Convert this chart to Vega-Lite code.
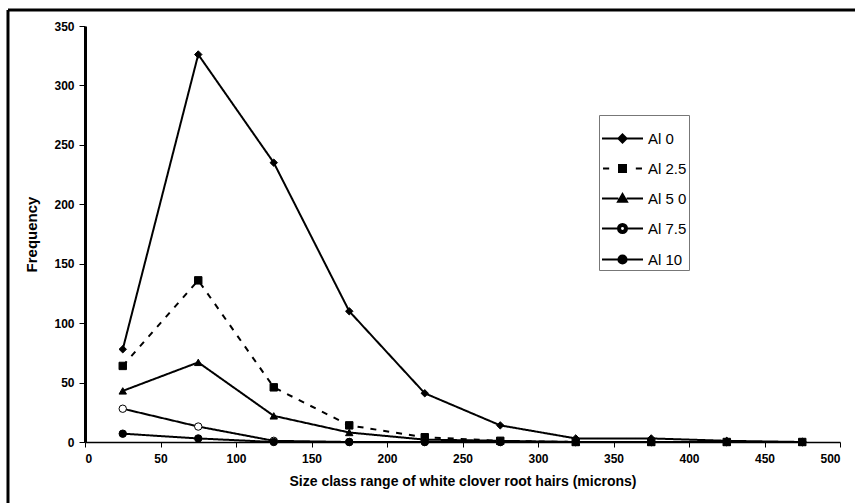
{
  "$schema": "https://vega.github.io/schema/vega-lite/v6.json",
  "width": 755,
  "height": 416,
  "autosize": {"type": "none"},
  "padding": {"left": 85, "top": 26, "right": 15, "bottom": 61},
  "background": "white",
  "config": {
    "view": {"stroke": null},
    "font": "Liberation Sans",
    "axis": {
      "grid": false,
      "labelFont": "Liberation Sans",
      "labelFontWeight": "bold",
      "labelFontSize": 12,
      "labelColor": "black",
      "titleFont": "Liberation Sans",
      "titleFontWeight": "bold",
      "titleColor": "black",
      "domainColor": "black",
      "tickColor": "black"
    }
  },
  "data": {
    "values": [
      {"size": 25, "series": "Al 0", "freq": 78},
      {"size": 75, "series": "Al 0", "freq": 326},
      {"size": 125, "series": "Al 0", "freq": 235},
      {"size": 175, "series": "Al 0", "freq": 110},
      {"size": 225, "series": "Al 0", "freq": 41},
      {"size": 275, "series": "Al 0", "freq": 14},
      {"size": 325, "series": "Al 0", "freq": 3},
      {"size": 375, "series": "Al 0", "freq": 3},
      {"size": 425, "series": "Al 0", "freq": 1},
      {"size": 475, "series": "Al 0", "freq": 0},
      {"size": 25, "series": "Al 2.5", "freq": 64},
      {"size": 75, "series": "Al 2.5", "freq": 136},
      {"size": 125, "series": "Al 2.5", "freq": 46},
      {"size": 175, "series": "Al 2.5", "freq": 14},
      {"size": 225, "series": "Al 2.5", "freq": 4},
      {"size": 275, "series": "Al 2.5", "freq": 1},
      {"size": 325, "series": "Al 2.5", "freq": 0},
      {"size": 375, "series": "Al 2.5", "freq": 0},
      {"size": 425, "series": "Al 2.5", "freq": 0},
      {"size": 475, "series": "Al 2.5", "freq": 0},
      {"size": 25, "series": "Al 5 0", "freq": 43},
      {"size": 75, "series": "Al 5 0", "freq": 67},
      {"size": 125, "series": "Al 5 0", "freq": 22},
      {"size": 175, "series": "Al 5 0", "freq": 8},
      {"size": 225, "series": "Al 5 0", "freq": 2},
      {"size": 275, "series": "Al 5 0", "freq": 1},
      {"size": 325, "series": "Al 5 0", "freq": 0},
      {"size": 375, "series": "Al 5 0", "freq": 0},
      {"size": 425, "series": "Al 5 0", "freq": 0},
      {"size": 475, "series": "Al 5 0", "freq": 0},
      {"size": 25, "series": "Al 7.5", "freq": 28},
      {"size": 75, "series": "Al 7.5", "freq": 13},
      {"size": 125, "series": "Al 7.5", "freq": 1},
      {"size": 175, "series": "Al 7.5", "freq": 0},
      {"size": 225, "series": "Al 7.5", "freq": 0},
      {"size": 275, "series": "Al 7.5", "freq": 0},
      {"size": 325, "series": "Al 7.5", "freq": 0},
      {"size": 375, "series": "Al 7.5", "freq": 0},
      {"size": 425, "series": "Al 7.5", "freq": 0},
      {"size": 475, "series": "Al 7.5", "freq": 0},
      {"size": 25, "series": "Al 10", "freq": 7},
      {"size": 75, "series": "Al 10", "freq": 3},
      {"size": 125, "series": "Al 10", "freq": 0},
      {"size": 175, "series": "Al 10", "freq": 0},
      {"size": 225, "series": "Al 10", "freq": 0},
      {"size": 275, "series": "Al 10", "freq": 0},
      {"size": 325, "series": "Al 10", "freq": 0},
      {"size": 375, "series": "Al 10", "freq": 0},
      {"size": 425, "series": "Al 10", "freq": 0},
      {"size": 475, "series": "Al 10", "freq": 0}
    ]
  },
  "layer": [
    {
      "data": {"values": [{}]},
      "mark": {"type": "rule", "stroke": "black", "strokeWidth": 3, "clip": false},
      "encoding": {
        "x": {"datum": -51, "type": "quantitative", "scale": {"domain": [0, 500], "nice": false, "zero": false}},
        "x2": {"datum": 530},
        "y": {"datum": 363.5, "type": "quantitative", "scale": {"domain": [0, 350], "nice": false, "zero": false}}
      }
    },
    {
      "data": {"values": [{}]},
      "mark": {"type": "rule", "stroke": "black", "strokeWidth": 3, "clip": false},
      "encoding": {
        "x": {"datum": -51, "type": "quantitative"},
        "y": {"datum": 363.5, "type": "quantitative"},
        "y2": {"datum": -70}
      }
    },
    {
      "mark": {"type": "line", "color": "black", "strokeWidth": 2},
      "encoding": {
        "x": {
          "field": "size",
          "type": "quantitative",
          "scale": {"domain": [0, 500], "nice": false, "zero": false},
          "axis": {
            "title": "Size class range of white clover root hairs (microns)",
            "titleFontSize": 14,
            "titlePadding": 10,
            "values": [0, 50, 100, 150, 200, 250, 300, 350, 400, 450, 500],
            "domainWidth": 1.5,
            "tickSize": 5,
            "tickWidth": 1,
            "labelPadding": 6
          }
        },
        "y": {
          "field": "freq",
          "type": "quantitative",
          "scale": {"domain": [0, 350], "nice": false, "zero": false},
          "axis": {
            "title": "Frequency",
            "titleFontSize": 15,
            "titlePadding": 14,
            "values": [0, 50, 100, 150, 200, 250, 300, 350],
            "domainWidth": 3,
            "tickSize": 6,
            "tickWidth": 1,
            "labelPadding": 5
          }
        },
        "detail": {"field": "series"},
        "strokeDash": {
          "condition": {"test": "datum.series === 'Al 2.5'", "value": [6, 7]},
          "value": [1, 0]
        }
      }
    },
    {
      "mark": {"type": "point", "stroke": "black", "strokeWidth": 1, "opacity": 1, "size": 55},
      "encoding": {
        "x": {"field": "size", "type": "quantitative"},
        "y": {"field": "freq", "type": "quantitative"},
        "shape": {
          "condition": [
            {"test": "datum.series === 'Al 0'", "value": "diamond"},
            {"test": "datum.series === 'Al 2.5'", "value": "square"},
            {"test": "datum.series === 'Al 5 0'", "value": "triangle-up"}
          ],
          "value": "circle"
        },
        "fill": {
          "condition": {"test": "datum.series === 'Al 7.5'", "value": "white"},
          "value": "black"
        }
      }
    },
    {
      "transform": [{"filter": "datum.freq < 0"}],
      "mark": {"type": "point", "filled": true, "color": "black", "stroke": "black", "strokeWidth": 2, "opacity": 1},
      "encoding": {
        "x": {"field": "size", "type": "quantitative"},
        "y": {"field": "freq", "type": "quantitative"},
        "shape": {
          "field": "series",
          "type": "nominal",
          "scale": {
            "domain": ["Al 0", "Al 2.5", "Al 5 0", "Al 7.5", "Al 10"],
            "range": [
              "M-1,0H-0.2M0.2,0H1M0,-0.2L0.2,0L0,0.2L-0.2,0Z",
              "M-0.95,0H-0.65M0.65,0H0.95M-0.17,-0.17H0.17V0.17H-0.17Z",
              "M-1,0H-0.2M0.2,0H1M0,-0.22L0.22,0.16L-0.22,0.16Z",
              "M-1,0H-0.22M0.22,0H1M0.22,0A0.22,0.22,0,1,1,-0.22,0A0.22,0.22,0,1,1,0.22,0ZM0.12,0A0.12,0.12,0,1,0,-0.12,0A0.12,0.12,0,1,0,0.12,0Z",
              "M-1,0H-0.2M0.2,0H1M0.2,0A0.2,0.2,0,1,1,-0.2,0A0.2,0.2,0,1,1,0.2,0Z"
            ]
          },
          "legend": {
            "title": null,
            "orient": "none",
            "legendX": 514,
            "legendY": 89,
            "direction": "vertical",
            "strokeColor": "#777777",
            "padding": 2,
            "symbolSize": 1681,
            "symbolStrokeWidth": 2,
            "symbolOpacity": 1,
            "labelFont": "Liberation Sans",
            "labelFontSize": 15,
            "labelColor": "black",
            "labelOffset": 4,
            "rowPadding": 0
          }
        }
      }
    }
  ]
}
